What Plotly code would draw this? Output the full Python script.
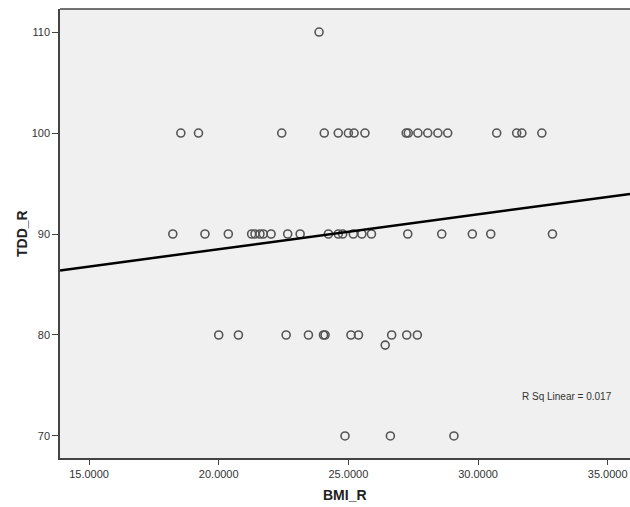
import numpy as np
import plotly.graph_objects as go

# Data (BMI_R vs TDD_R)
bmi_100 = [18.54, 19.22, 22.43, 24.07, 24.61, 25.00, 25.22, 25.64, 27.23, 27.31,
           27.68, 28.06, 28.45, 28.83, 30.72, 31.49, 31.69, 32.46]
bmi_110 = [23.87]
bmi_90 = [18.23, 19.47, 20.37, 21.27, 21.40, 21.59, 21.72, 22.02, 22.66, 23.14,
          24.23, 24.61, 24.78, 25.19, 25.52, 25.89, 27.29, 28.60, 29.78, 30.49, 32.87]
bmi_80 = [20.00, 20.76, 22.60, 23.46, 24.04, 24.10, 25.10, 25.39, 26.67, 27.25, 27.66]
bmi_79 = [26.42]
bmi_70 = [24.87, 26.62, 29.07]

x_ticks = [15, 20, 25, 30, 35]
y_ticks = [70, 80, 90, 100, 110]
r_sq_label = "R Sq Linear = 0.017"

# Linear fit line (SPSS fit line)
fit_intercept = 81.6
fit_slope = 0.345

bmi = bmi_100 + bmi_110 + bmi_90 + bmi_80 + bmi_79 + bmi_70
tdd = ([100] * len(bmi_100) + [110] * len(bmi_110) + [90] * len(bmi_90)
       + [80] * len(bmi_80) + [79] * len(bmi_79) + [70] * len(bmi_70))

x_range = [13.88, 35.86]
y_range = [67.82, 112.28]

line_x = np.array(x_range)
line_y = fit_intercept + fit_slope * line_x

fig = go.Figure()
fig.add_trace(go.Scatter(
    x=bmi, y=tdd, mode="markers",
    marker=dict(symbol="circle-open", size=8, color="#555555", line=dict(width=1.6)),
    showlegend=False, hoverinfo="x+y"))
fig.add_trace(go.Scatter(
    x=line_x, y=line_y, mode="lines",
    line=dict(color="#000000", width=2.5), showlegend=False, hoverinfo="skip"))

axis_font = dict(family="Liberation Sans, Arial, sans-serif", size=11, color="#333333")

fig.update_layout(
    width=630, height=507,
    margin=dict(l=60, r=0, t=9, b=49),
    paper_bgcolor="white",
    plot_bgcolor="#f0f0f0",
    font=axis_font,
    xaxis=dict(range=x_range, tickvals=x_ticks, tickformat=".4f",
               showgrid=False, zeroline=False, showline=True, linecolor="#444444",
               linewidth=1.5, ticks="outside", ticklen=5, tickcolor="#444444",
               tickfont=axis_font),
    yaxis=dict(range=y_range, tickvals=y_ticks,
               showgrid=False, zeroline=False, showline=True, linecolor="#444444",
               linewidth=1.5, ticks="outside", ticklen=6, tickcolor="#444444",
               tickfont=axis_font),
    shapes=[dict(type="line", xref="paper", yref="paper", x0=0, x1=1, y0=1, y1=1,
                 line=dict(color="#444444", width=1.5))],
    annotations=[
        dict(text="<b>BMI_R</b>", xref="paper", yref="paper", x=(345 - 60) / 570, y=-(495 - 458) / 449,
             showarrow=False, xanchor="center", yanchor="middle",
             font=dict(family="Liberation Sans, Arial, sans-serif", size=14, color="#222222")),
        dict(text="<b>TDD_R</b>", xref="paper", yref="paper", x=-(60 - 22) / 570, y=(458 - 234) / 449,
             showarrow=False, textangle=-90, xanchor="center", yanchor="middle",
             font=dict(family="Liberation Sans, Arial, sans-serif", size=14, color="#222222")),
        dict(text=r_sq_label, xref="paper", yref="paper", x=(614 - 60) / 570, y=(458 - 396) / 449,
             showarrow=False, xanchor="right", yanchor="middle",
             font=dict(family="Liberation Sans, Arial, sans-serif", size=10, color="#333333")),
    ],
)

fig.write_html("out.html", config={"displayModeBar": False},
               post_script="document.body.style.margin='0';document.body.style.overflow='hidden';")
